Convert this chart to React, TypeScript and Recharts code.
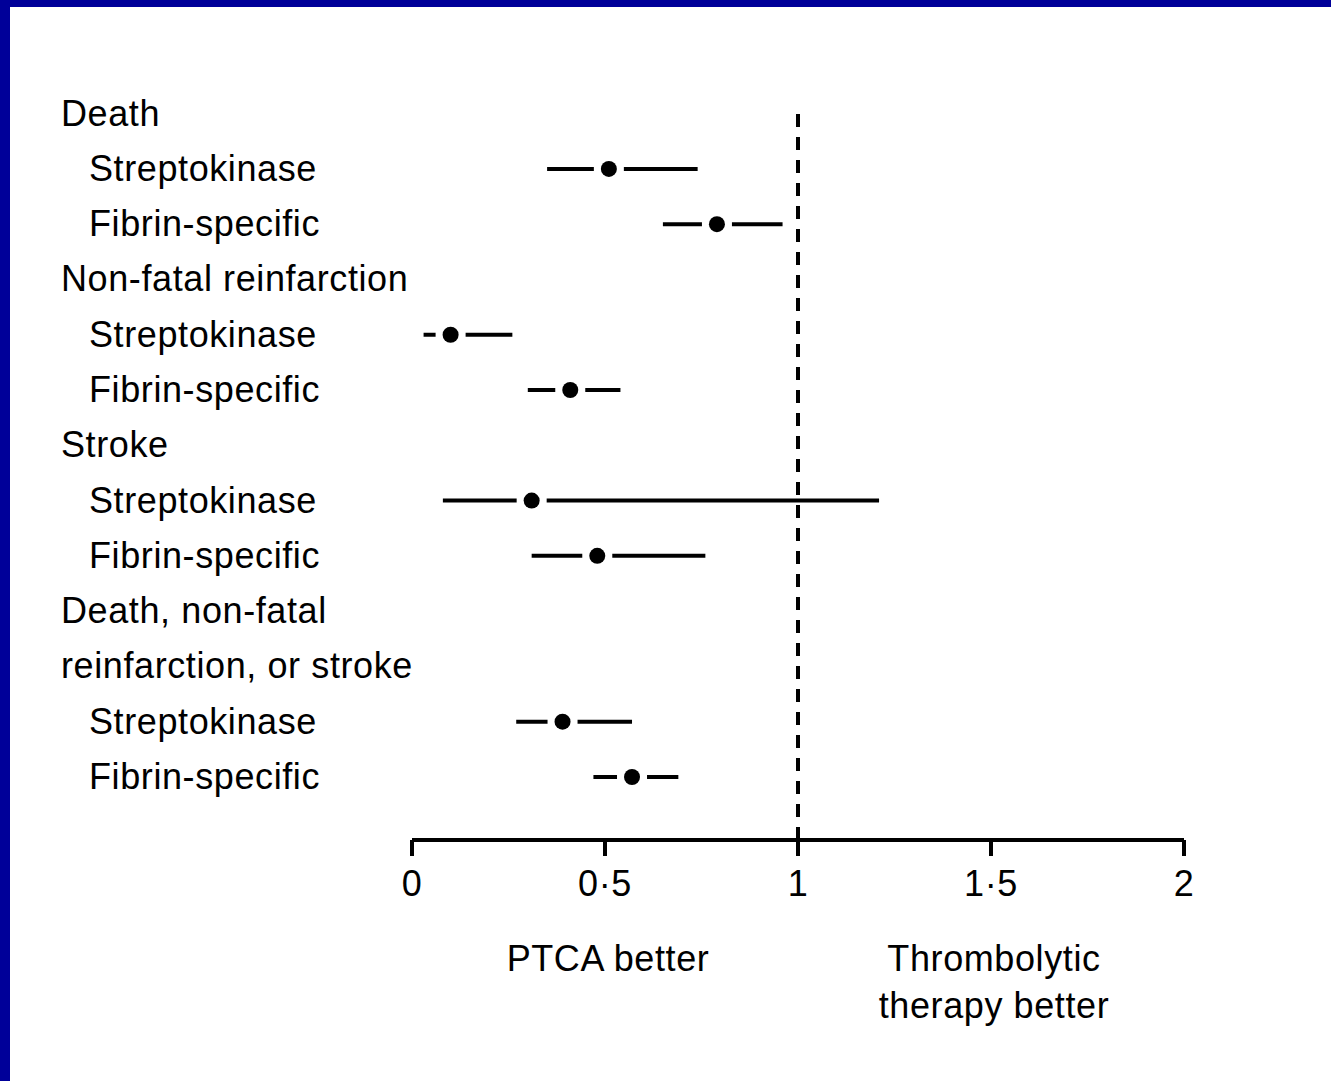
import { ErrorBar, ReferenceLine, Scatter, ScatterChart, XAxis, YAxis } from "recharts";

const rowLabels = [
  "Death",
  "Streptokinase",
  "Fibrin-specific",
  "Non-fatal reinfarction",
  "Streptokinase",
  "Fibrin-specific",
  "Stroke",
  "Streptokinase",
  "Fibrin-specific",
  "Death, non-fatal",
  "reinfarction, or stroke",
  "Streptokinase",
  "Fibrin-specific",
];
const headerRows = [0, 3, 6, 9, 10];

const pointRows = [1, 2, 4, 5, 7, 8, 11, 12];
const oddsRatio = [0.51, 0.79, 0.1, 0.41, 0.31, 0.48, 0.39, 0.57];
const lowerCI = [0.35, 0.65, 0.03, 0.3, 0.08, 0.31, 0.27, 0.47];
const upperCI = [0.74, 0.96, 0.26, 0.54, 1.21, 0.76, 0.57, 0.69];

const xTicks = [0, 0.5, 1, 1.5, 2];
const xTickLabels = ["0", "0·5", "1", "1·5", "2"];

const sideLabels = [
  { at: 0.5, lines: ["PTCA better"] },
  { at: 1.5, lines: ["Thrombolytic", "therapy better"] },
];

const points = pointRows.map((row, i) => ({
  row,
  or: oddsRatio[i],
  lo: lowerCI[i],
  hi: upperCI[i],
}));

const FONT = '"Liberation Sans", Arial, sans-serif';
const BLUE = "#000099";

const textStyle = { fontFamily: FONT, fontSize: 36, letterSpacing: 0.6, fill: "#000" };

function RowTick({ y, payload }: any) {
  const i = payload.value;
  const header = headerRows.includes(i);
  return (
    <text x={header ? 61 : 89} y={y + 12} textAnchor="start" style={textStyle}>
      {rowLabels[i]}
    </text>
  );
}

function ValueTick({ x, y, payload }: any) {
  const idx = xTicks.indexOf(payload.value);
  return (
    <text x={x} y={y + 38} textAnchor="middle" style={textStyle}>
      {xTickLabels[idx]}
    </text>
  );
}

function SideLabels({ viewBox }: any) {
  const { x, width } = viewBox;
  return (
    <g>
      {sideLabels.map((s) => (
        <text key={s.at} textAnchor="middle" style={textStyle}>
          {s.lines.map((line, j) => (
            <tspan key={line} x={x + (s.at / 2) * width + 3} y={971 + j * 47}>
              {line}
            </tspan>
          ))}
        </text>
      ))}
    </g>
  );
}

function EstimateDot({ cx, cy }: any) {
  return (
    <g>
      <rect x={cx - 15} y={cy - 4} width={30} height={8} fill="#fff" />
      <circle cx={cx} cy={cy} r={8} fill="#000" />
    </g>
  );
}

export default function App() {
  return (
    <div
      style={{
        position: "absolute",
        left: 0,
        top: 0,
        width: 1331,
        height: 1081,
        background: "#fff",
        overflow: "hidden",
      }}
    >
      <div style={{ position: "absolute", left: 0, top: 0, width: 1331, height: 7, background: BLUE }} />
      <div style={{ position: "absolute", left: 0, top: 0, width: 10, height: 1081, background: BLUE }} />
      <ScatterChart
        width={1331}
        height={1081}
        margin={{ top: 107, right: 147, bottom: 0, left: 0 }}
        style={{ position: "absolute", left: 0, top: 0 }}
      >
        <XAxis
          type="number"
          dataKey="or"
          domain={[0, 2]}
          ticks={xTicks}
          allowDataOverflow
          height={241}
          tickSize={16}
          axisLine={{ stroke: "#000", strokeWidth: 4 }}
          tickLine={{ stroke: "#000", strokeWidth: 4 }}
          tick={<ValueTick />}
          label={{ content: SideLabels }}
        />
        <YAxis
          type="number"
          dataKey="row"
          domain={[-0.12, 13.14]}
          reversed
          allowDataOverflow
          ticks={rowLabels.map((_, i) => i)}
          interval={0}
          width={412}
          axisLine={false}
          tickLine={false}
          tick={<RowTick />}
        />
        <ReferenceLine x={1} stroke="#000" strokeWidth={4} strokeDasharray="13 10" />
        <Scatter data={points} shape={<EstimateDot />} isAnimationActive={false}>
          <ErrorBar
            dataKey={(d: any) => [d.or - d.lo, d.hi - d.or]}
            direction="x"
            width={0}
            stroke="#000"
            strokeWidth={4}
            isAnimationActive={false}
          />
        </Scatter>
      </ScatterChart>
    </div>
  );
}
